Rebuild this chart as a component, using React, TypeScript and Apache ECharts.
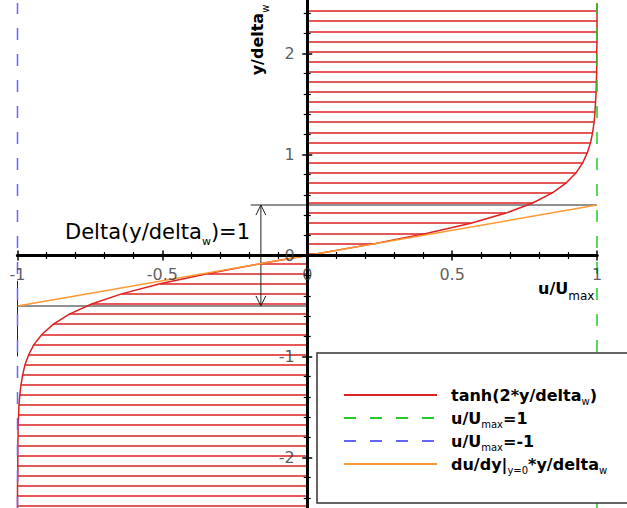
import React, { useEffect, useRef } from 'react';
import * as echarts from 'echarts';

// ---- data ----
const xRange = [-1, 1];
const yRange = [-3, 3];
const xTickStep = 0.5;
const yTickStep = 1;
const xTickValues = [-1, -0.5, 0, 0.5, 1];
const xTickLabels = ['-1', '-0.5', '0', '0.5', '1'];
const yTickValues = [-2, -1, 0, 1, 2];
const yTickLabels = ['-2', '-1', '0', '1', '2'];

// y positions of the horizontal hatch lines
const hatchY = [
  -2.48, -2.38, -2.28, -2.18, -2.08, -1.98, -1.88, -1.78, -1.68, -1.58,
  -1.48, -1.38, -1.28, -1.18, -1.08, -0.98, -0.88, -0.78, -0.68, -0.58,
  -0.48, -0.38, -0.28, -0.18, -0.08, 0.02, 0.12, 0.22, 0.32, 0.42,
  0.52, 0.62, 0.72, 0.82, 0.92, 1.02, 1.12, 1.22, 1.32, 1.42,
  1.52, 1.62, 1.72, 1.82, 1.92, 2.02, 2.12, 2.22, 2.32, 2.42,
];
// x value of the tanh profile at each hatch line
const hatchX = [
  -1.0, -1.0, -1.0, -0.999, -0.999, -0.999, -0.999, -0.998, -0.998, -0.996,
  -0.995, -0.992, -0.988, -0.982, -0.974, -0.961, -0.943, -0.915, -0.876, -0.821,
  -0.744, -0.641, -0.508, -0.345, -0.159, 0.04, 0.236, 0.414, 0.565, 0.686,
  0.778, 0.846, 0.894, 0.928, 0.951, 0.967, 0.978, 0.985, 0.99, 0.993,
  0.995, 0.997, 0.998, 0.999, 0.999, 0.999, 1.0, 1.0, 1.0, 1.0,
];
const curveEndsX = [-1.0, 1.0];
const curveEndsY = [-2.5, 2.5];

const greenLine = [[1, -2.5], [1, 2.5]];
const blueLine = [[-1, -2.5], [-1, 2.5]];
const orangeLine = [[-1, -0.5], [1, 0.5]];

// annotation geometry (data coordinates)
const upperRef = [[-0.195, 0.5], [1, 0.5]];
const lowerRef = [[-1, -0.5], [0, -0.5]];
const leftRef = [[-1, -0.25], [-1, -1.0]];
const arrowX = -0.16;
const arrowHalfW = 0.017;
const arrowHeadLen = 0.1;
const arrowTop = 0.5;
const arrowBottom = -0.5;

const legendNames = ['tanh', 'u1', 'um1', 'dudy'];
const legendLabels: Record<string, string> = {
  tanh: '{m|tanh(2*y/delta}{s|w}{m|)}',
  u1: '{m|u/U}{s|max}{m|=1}',
  um1: '{m|u/U}{s|max}{m|=-1}',
  dudy: '{m|du/dy|}{s|y=0}{m|*y/delta}{s|w}',
};

const FONT = 'DejaVu Sans';

export default function App() {
  const ref = useRef<HTMLDivElement>(null);
  useEffect(() => {
    if (!ref.current) return;
    const chart = echarts.init(ref.current, undefined, { renderer: 'svg' });

    const curveData: number[][] = [[curveEndsX[0], curveEndsY[0]]];
    hatchY.forEach((y, i) => curveData.push([hatchX[i], y]));
    curveData.push([curveEndsX[1], curveEndsY[1]]);

    const hatchData = hatchY.map((y, i) => ({ coords: [[0, y], [hatchX[i], y]] }));

    const arrowData = [
      { coords: [[arrowX, arrowTop], [arrowX, arrowBottom]] },
      { coords: [[arrowX - arrowHalfW, arrowTop - arrowHeadLen], [arrowX, arrowTop], [arrowX + arrowHalfW, arrowTop - arrowHeadLen]] },
      { coords: [[arrowX - arrowHalfW, arrowBottom + arrowHeadLen], [arrowX, arrowBottom], [arrowX + arrowHalfW, arrowBottom + arrowHeadLen]] },
      { coords: upperRef },
      { coords: lowerRef },
      { coords: leftRef },
    ];

    const xAxisBase = (pos: string) => ({
      type: 'value',
      min: xRange[0],
      max: xRange[1],
      interval: xTickStep,
      position: pos,
      z: 3,
      axisLine: { show: true, onZero: true, onZeroAxisIndex: 0, lineStyle: { color: '#000', width: 3 } },
      axisTick: { show: true, length: 5, lineStyle: { color: '#000', width: 1.5 } },
      minorTick: { show: true, splitNumber: 5, length: 3.5, lineStyle: { color: '#000', width: 1.2 } },
      axisLabel: { show: false },
      splitLine: { show: false },
      minorSplitLine: { show: false },
    });
    const yAxisBase = (pos: string) => ({
      type: 'value',
      min: yRange[0],
      max: yRange[1],
      interval: yTickStep,
      position: pos,
      z: 3,
      axisLine: { show: true, onZero: true, onZeroAxisIndex: 0, lineStyle: { color: '#000', width: 3 } },
      axisTick: { show: true, length: 5, lineStyle: { color: '#000', width: 1.5 } },
      minorTick: { show: true, splitNumber: 5, length: 3.5, lineStyle: { color: '#000', width: 1.2 } },
      axisLabel: { show: false },
      splitLine: { show: false },
      minorSplitLine: { show: false },
    });

    const tickLabelStyle = { color: '#333', fontSize: 16, fontFamily: FONT };

    chart.setOption({
      animation: false,
      backgroundColor: '#fff',
      grid: { left: 17.5, width: 579.5, top: -47.5, height: 606, containLabel: false, outerBoundsMode: 'none' },
      xAxis: [xAxisBase('bottom'), xAxisBase('top')],
      yAxis: [yAxisBase('left'), yAxisBase('right')],
      legend: {
        data: legendNames,
        orient: 'vertical',
        left: 343,
        top: 387,
        padding: 0,
        itemGap: 4,
        itemWidth: 93,
        itemHeight: 14,
        selectedMode: false,
        z: 5,
        itemStyle: { opacity: 0 },
        formatter: (name: string) => legendLabels[name],
        textStyle: {
          padding: [0, 0, 0, 9],
          rich: {
            m: { fontSize: 16, fontWeight: 'bold', fontFamily: FONT, color: '#000' },
            s: { fontSize: 10, fontFamily: FONT, color: '#000', padding: [12, 0, 0, 0] },
          },
        },
      },
      graphic: [
        {
          type: 'rect', z: 3,
          shape: { x: 317, y: 353, width: 330, height: 150 },
          style: { fill: '#fff', stroke: '#333', lineWidth: 1.5 },
        },
        {
          type: 'text', x: 65, y: 232, z: 6,
          style: {
            text: '{m|Delta(y/delta}{s|w}{m|)=1}',
            verticalAlign: 'middle',
            rich: {
              m: { fontSize: 21, fontFamily: FONT, fill: '#000' },
              s: { fontSize: 11, fontFamily: FONT, fill: '#000', padding: [18, 0, 0, 0] },
            },
          },
        },
        {
          type: 'text', x: 538, y: 288, z: 6,
          style: {
            text: '{m|u/U}{s|max}',
            verticalAlign: 'middle',
            rich: {
              m: { fontSize: 16, fontWeight: 'bold', fontFamily: FONT, fill: '#000' },
              s: { fontSize: 12, fontFamily: FONT, fill: '#000', padding: [16, 0, 0, 0] },
            },
          },
        },
        {
          type: 'text', x: 257, y: 40, z: 6, rotation: Math.PI / 2,
          style: {
            text: '{m|y/delta}{s|w}',
            align: 'center',
            verticalAlign: 'middle',
            rich: {
              m: { fontSize: 16, fontWeight: 'bold', fontFamily: FONT, fill: '#000' },
              s: { fontSize: 10, fontFamily: FONT, fill: '#000', padding: [16, 0, 0, 0] },
            },
          },
        },
      ],
      series: [
        {
          name: 'tanh', type: 'line', data: curveData, symbol: 'none', z: 2,
          lineStyle: { color: '#dd2020', width: 1.5 }, itemStyle: { color: '#dd2020' },
        },
        {
          name: 'hatch', type: 'lines', coordinateSystem: 'cartesian2d', data: hatchData, z: 2,
          lineStyle: { color: '#dd2020', width: 1.5, opacity: 1 },
        },
        {
          name: 'u1', type: 'line', data: greenLine, symbol: 'none', z: 2,
          lineStyle: { color: '#22cc22', width: 1.5, type: [12, 14] }, itemStyle: { color: '#22cc22' },
        },
        {
          name: 'um1', type: 'line', data: blueLine, symbol: 'none', z: 2,
          lineStyle: { color: '#6666ff', width: 1.5, type: [12, 14] }, itemStyle: { color: '#6666ff' },
        },
        {
          name: 'dudy', type: 'line', data: orangeLine, symbol: 'none', z: 2,
          lineStyle: { color: '#ff9933', width: 1.5 }, itemStyle: { color: '#ff9933' },
        },
        {
          name: 'annot', type: 'lines', coordinateSystem: 'cartesian2d', polyline: true, data: arrowData, z: 2,
          lineStyle: { color: '#222', width: 1, opacity: 1 },
        },
        {
          name: 'xTickLabels', type: 'scatter', silent: true, z: 4,
          symbol: 'circle', symbolSize: 1, itemStyle: { color: 'rgba(0,0,0,0)' },
          data: xTickValues.map((v, i) => ({ value: [v, 0], name: xTickLabels[i] })),
          label: { show: true, position: 'bottom', distance: 10, formatter: (p: any) => p.name, ...tickLabelStyle },
        },
        {
          name: 'yTickLabels', type: 'scatter', silent: true, z: 4,
          symbol: 'circle', symbolSize: 1, itemStyle: { color: 'rgba(0,0,0,0)' },
          data: yTickValues.map((v, i) => ({ value: [0, v], name: yTickLabels[i] })),
          label: { show: true, position: 'left', distance: 12, formatter: (p: any) => p.name, ...tickLabelStyle },
        },
      ],
    });
    return () => chart.dispose();
  }, []);
  return <div ref={ref} style={{ position: 'absolute', left: 0, top: 0, width: 627, height: 508 }} />;
}
